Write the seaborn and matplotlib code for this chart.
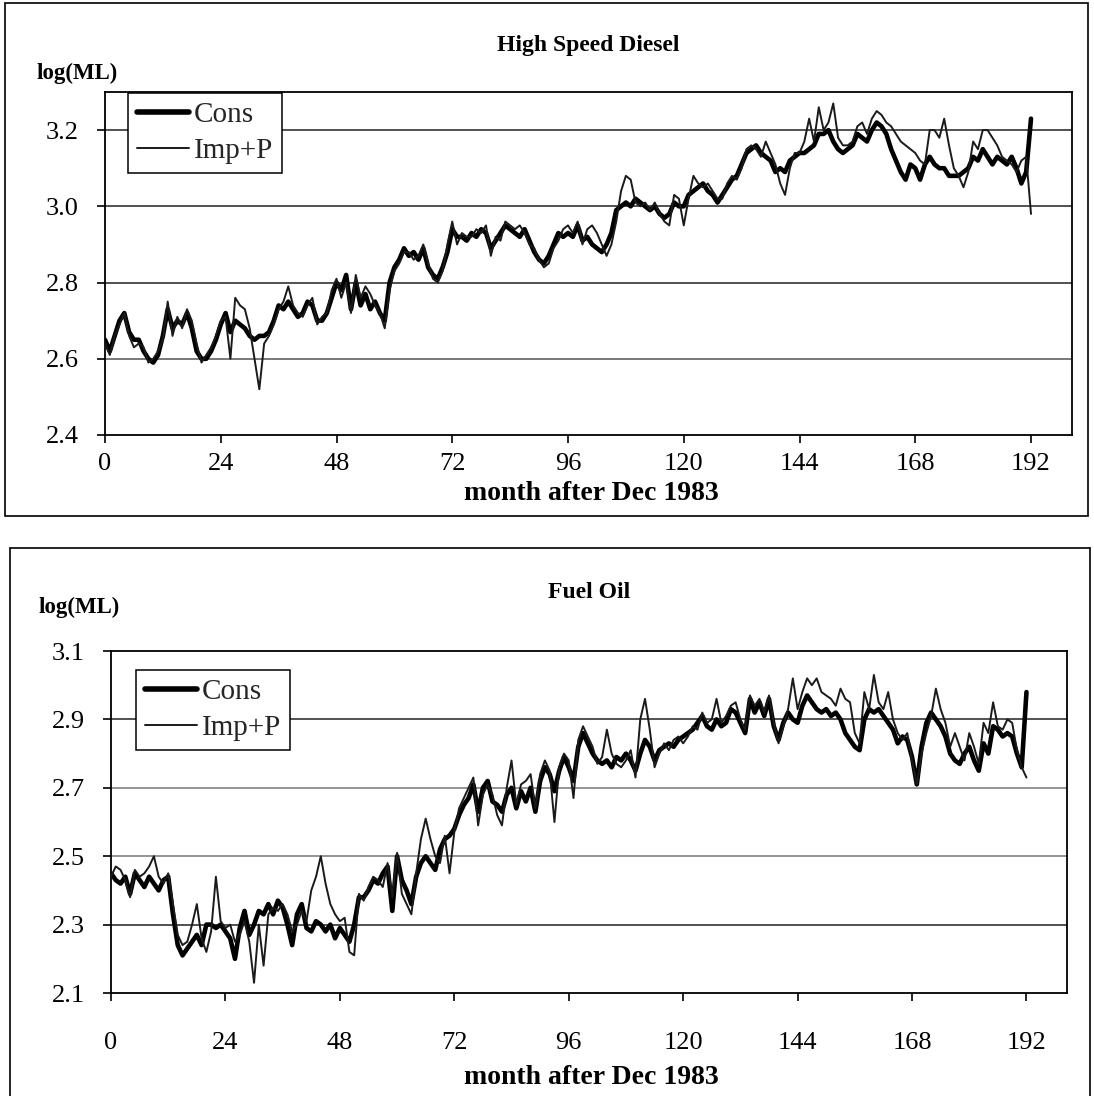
import numpy as np
import pandas as pd
import matplotlib
matplotlib.use("Agg")
import matplotlib.pyplot as plt
from matplotlib.patches import Rectangle
from matplotlib.lines import Line2D
import seaborn as sns

# ---------------- data ----------------
months = list(range(0, 193))

hsd_cons = [
    2.65, 2.62, 2.66, 2.70, 2.72, 2.67, 2.65, 2.65, 2.62, 2.60,
    2.59, 2.61, 2.66, 2.73, 2.68, 2.70, 2.69, 2.72, 2.68, 2.62,
    2.60, 2.60, 2.62, 2.65, 2.69, 2.72, 2.67, 2.70, 2.69, 2.68,
    2.66, 2.65, 2.66, 2.66, 2.67, 2.70, 2.74, 2.73, 2.75, 2.73,
    2.71, 2.72, 2.75, 2.74, 2.70, 2.70, 2.72, 2.76, 2.80, 2.78,
    2.82, 2.73, 2.80, 2.74, 2.77, 2.73, 2.75, 2.72, 2.70, 2.80,
    2.84, 2.86, 2.89, 2.87, 2.88, 2.86, 2.89, 2.84, 2.82, 2.81,
    2.84, 2.88, 2.94, 2.92, 2.92, 2.91, 2.93, 2.92, 2.94, 2.93,
    2.89, 2.91, 2.93, 2.95, 2.94, 2.93, 2.92, 2.94, 2.91, 2.88,
    2.86, 2.85, 2.87, 2.90, 2.93, 2.92, 2.93, 2.92, 2.95, 2.91,
    2.92, 2.90, 2.89, 2.88, 2.90, 2.93, 2.99, 3.00, 3.01, 3.00,
    3.02, 3.01, 3.00, 2.99, 3.00, 2.98, 2.97, 2.98, 3.01, 3.00,
    3.00, 3.03, 3.04, 3.05, 3.06, 3.04, 3.03, 3.01, 3.03, 3.05,
    3.07, 3.08, 3.11, 3.14, 3.15, 3.16, 3.14, 3.13, 3.12, 3.09,
    3.10, 3.09, 3.12, 3.13, 3.14, 3.14, 3.15, 3.16, 3.19, 3.19,
    3.20, 3.17, 3.15, 3.14, 3.15, 3.16, 3.19, 3.18, 3.17, 3.20,
    3.22, 3.21, 3.19, 3.15, 3.12, 3.09, 3.07, 3.11, 3.10, 3.07,
    3.11, 3.13, 3.11, 3.10, 3.10, 3.08, 3.08, 3.08, 3.09, 3.10,
    3.13, 3.12, 3.15, 3.13, 3.11, 3.13, 3.12, 3.11, 3.13, 3.10,
    3.06, 3.09, 3.23,
]

hsd_imp = [
    2.64, 2.61, 2.66, 2.69, 2.72, 2.66, 2.63, 2.64, 2.63, 2.59,
    2.60, 2.62, 2.65, 2.75, 2.66, 2.71, 2.68, 2.73, 2.70, 2.64,
    2.59, 2.61, 2.63, 2.66, 2.70, 2.71, 2.60, 2.76, 2.74, 2.73,
    2.68, 2.60, 2.52, 2.64, 2.66, 2.69, 2.73, 2.75, 2.79, 2.74,
    2.72, 2.71, 2.74, 2.76, 2.69, 2.71, 2.72, 2.78, 2.81, 2.76,
    2.80, 2.72, 2.82, 2.76, 2.79, 2.77, 2.74, 2.72, 2.68, 2.78,
    2.83, 2.85, 2.88, 2.88, 2.86, 2.87, 2.90, 2.85, 2.81, 2.80,
    2.83, 2.90, 2.96, 2.90, 2.93, 2.92, 2.92, 2.94, 2.93, 2.95,
    2.87, 2.92, 2.91, 2.96, 2.95, 2.94, 2.95, 2.93, 2.90, 2.89,
    2.86, 2.84, 2.85, 2.89, 2.91, 2.94, 2.95, 2.93, 2.96, 2.90,
    2.94, 2.95, 2.93, 2.90, 2.87, 2.90, 2.96, 3.04, 3.08, 3.07,
    3.01, 3.00, 3.01, 2.99, 3.01, 2.98, 2.96, 2.95, 3.03, 3.02,
    2.95, 3.02, 3.08, 3.06, 3.05, 3.06, 3.04, 3.02, 3.02, 3.06,
    3.08, 3.07, 3.10, 3.15, 3.16, 3.15, 3.13, 3.17, 3.14, 3.11,
    3.06, 3.03, 3.10, 3.14, 3.14, 3.17, 3.23, 3.17, 3.26, 3.20,
    3.22, 3.27, 3.18, 3.16, 3.16, 3.17, 3.21, 3.22, 3.19, 3.23,
    3.25, 3.24, 3.22, 3.21, 3.19, 3.17, 3.16, 3.15, 3.14, 3.12,
    3.11, 3.20, 3.20, 3.18, 3.23, 3.16, 3.10, 3.08, 3.05, 3.09,
    3.17, 3.15, 3.20, 3.20, 3.18, 3.16, 3.13, 3.12, 3.11, 3.09,
    3.12, 3.13, 2.98,
]

fo_cons = [
    2.45, 2.43, 2.42, 2.44, 2.39, 2.45, 2.43, 2.41, 2.44, 2.42,
    2.40, 2.43, 2.44, 2.33, 2.24, 2.21, 2.23, 2.25, 2.27, 2.24,
    2.30, 2.30, 2.29, 2.30, 2.28, 2.26, 2.20, 2.29, 2.34, 2.27,
    2.30, 2.34, 2.33, 2.36, 2.33, 2.37, 2.35, 2.30, 2.24, 2.33,
    2.36, 2.29, 2.28, 2.31, 2.30, 2.28, 2.30, 2.26, 2.29, 2.27,
    2.25, 2.30, 2.38, 2.38, 2.40, 2.43, 2.42, 2.45, 2.47, 2.34,
    2.50, 2.43, 2.40, 2.36, 2.44, 2.48, 2.50, 2.48, 2.46, 2.52,
    2.55, 2.56, 2.58, 2.62, 2.65, 2.67, 2.71, 2.63, 2.70, 2.72,
    2.66, 2.65, 2.63, 2.68, 2.70, 2.64, 2.69, 2.66, 2.70, 2.63,
    2.72, 2.76, 2.74, 2.69, 2.75, 2.79, 2.76, 2.72, 2.82, 2.86,
    2.83, 2.80, 2.78, 2.77, 2.78, 2.76, 2.79, 2.78, 2.80, 2.78,
    2.75, 2.80, 2.84, 2.82, 2.78, 2.81, 2.82, 2.83, 2.82, 2.84,
    2.85, 2.86, 2.87, 2.89, 2.91, 2.88, 2.87, 2.90, 2.88, 2.89,
    2.93, 2.92, 2.89, 2.86, 2.96, 2.92, 2.95, 2.91, 2.96, 2.88,
    2.84, 2.89, 2.92, 2.90, 2.89, 2.94, 2.97, 2.95, 2.93, 2.92,
    2.93, 2.91, 2.92, 2.90, 2.86, 2.84, 2.82, 2.81, 2.90, 2.93,
    2.92, 2.93, 2.91, 2.89, 2.87, 2.83, 2.85, 2.84, 2.79, 2.71,
    2.82, 2.89, 2.92, 2.90, 2.88, 2.85, 2.80, 2.78, 2.77, 2.80,
    2.82, 2.78, 2.75, 2.83, 2.80, 2.88, 2.87, 2.85, 2.86, 2.85,
    2.80, 2.76, 2.98,
]

fo_imp = [
    2.44, 2.47, 2.46, 2.43, 2.38, 2.46, 2.44, 2.45, 2.47, 2.50,
    2.44, 2.42, 2.45, 2.36, 2.27, 2.24, 2.25, 2.30, 2.36, 2.26,
    2.22, 2.28, 2.44, 2.31, 2.29, 2.30, 2.25, 2.27, 2.31, 2.25,
    2.13, 2.30, 2.18, 2.33, 2.35, 2.34, 2.36, 2.33, 2.28, 2.30,
    2.34, 2.31, 2.40, 2.44, 2.50, 2.42, 2.36, 2.33, 2.31, 2.32,
    2.22, 2.21, 2.39, 2.37, 2.41, 2.44, 2.43, 2.41, 2.48, 2.38,
    2.51, 2.39, 2.36, 2.33, 2.45, 2.55, 2.61, 2.55, 2.50, 2.48,
    2.56, 2.45, 2.57, 2.64, 2.67, 2.70, 2.73, 2.59, 2.68, 2.71,
    2.68, 2.62, 2.59, 2.70, 2.78, 2.65, 2.71, 2.72, 2.74, 2.64,
    2.74, 2.78, 2.75, 2.60, 2.76, 2.80, 2.78, 2.67, 2.84, 2.88,
    2.85, 2.82, 2.77, 2.79, 2.87, 2.80, 2.77, 2.76, 2.78, 2.81,
    2.73, 2.90, 2.96, 2.87, 2.76, 2.80, 2.83, 2.81, 2.84, 2.85,
    2.83, 2.85, 2.88, 2.87, 2.92, 2.89, 2.90, 2.96, 2.89, 2.91,
    2.94, 2.95, 2.90, 2.87, 2.97, 2.94, 2.96, 2.92, 2.97, 2.89,
    2.83, 2.88, 2.93, 3.02, 2.93, 2.98, 3.02, 3.00, 3.02, 2.98,
    2.97, 2.96, 2.94, 2.99, 2.96, 2.95, 2.86, 2.83, 2.98, 2.93,
    3.03, 2.95, 2.93, 2.98, 2.90, 2.86, 2.84, 2.86, 2.78, 2.71,
    2.80, 2.86, 2.91, 2.99, 2.93, 2.89, 2.82, 2.86, 2.82, 2.78,
    2.86, 2.82, 2.77, 2.89, 2.86, 2.95, 2.88, 2.87, 2.90, 2.89,
    2.81, 2.76, 2.73,
]

series_names = ["Cons", "Imp+P"]
x_ticks = list(range(0, 193, 24))
hsd_yticks = [2.4, 2.6, 2.8, 3.0, 3.2]
fo_yticks = [2.1, 2.3, 2.5, 2.7, 2.9, 3.1]

# ---------------- style ----------------
sns.set_theme(style="white")
plt.rcParams["font.family"] = ["Liberation Serif", "DejaVu Serif"]
plt.rcParams["axes.linewidth"] = 1.2

W, H = 1094, 1096
fig = plt.figure(figsize=(W / 100, H / 100), dpi=100)
fig.patch.set_facecolor("white")

CONS_LW = 3.3
IMP_LW = 1.4


def fx(px):
    return px / W


def fy(py):
    return 1 - py / H


def panel(rect_px, cons, imp, ylim, yticks, grid_colors, xpad, legend_px):
    l, t, r, b = rect_px
    ax = fig.add_axes([fx(l), fy(b), fx(r) - fx(l), fy(t) - fy(b)])
    df = pd.DataFrame({
        "month": months * 2,
        "value": list(cons) + list(imp),
        "series": ["Cons"] * len(months) + ["Imp+P"] * len(months),
    })
    # horizontal gridlines
    for yv in yticks:
        if ylim[0] < yv < ylim[1]:
            ax.axhline(yv, color=grid_colors.get(yv, "#222222"), lw=1.1, zorder=0)
    sns.lineplot(data=df[df.series == "Cons"], x="month", y="value",
                 color="black", lw=CONS_LW, ax=ax, legend=False, zorder=3)
    sns.lineplot(data=df[df.series == "Imp+P"], x="month", y="value",
                 color="#1a1a1a", lw=IMP_LW, ax=ax, legend=False, zorder=4)
    ax.set_xlim(0, 200.5)
    ax.set_ylim(*ylim)
    ax.set_xticks(x_ticks)
    ax.set_yticks(yticks)
    ax.set_yticklabels([f"{v:.1f}" for v in yticks])
    ax.set_xlabel("")
    ax.set_ylabel("")
    for s in ax.spines.values():
        s.set_visible(True)
        s.set_color("black")
        s.set_linewidth(1.3)
    ax.tick_params(axis="both", direction="out", length=6, width=1.2,
                   color="black", labelsize=19, labelcolor="black")
    ax.tick_params(axis="x", pad=xpad, bottom=True)
    ax.tick_params(axis="y", pad=13, left=True)
    ax.grid(False)
    handles = [Line2D([], [], color="black", lw=CONS_LW + 0.7),
               Line2D([], [], color="#1a1a1a", lw=IMP_LW)]
    lx, ly = legend_px
    leg = ax.legend(handles, series_names, loc="upper left",
                    bbox_to_anchor=((lx - l) / (r - l), 1 - (ly - t) / (b - t)),
                    borderaxespad=0, frameon=True, fancybox=False,
                    edgecolor="black", fontsize=21, handlelength=1.8,
                    handletextpad=0.15, labelspacing=0.32, borderpad=0.3,
                    framealpha=1)
    leg.get_frame().set_linewidth(1.1)
    return ax


ax1 = panel((105, 92, 1072, 435), hsd_cons, hsd_imp, (2.4, 3.3),
            hsd_yticks, {2.6: "#555555"}, 7, (128, 93))
ax2 = panel((111, 651, 1067, 993), fo_cons, fo_imp, (2.1, 3.1),
            fo_yticks, {2.7: "#777777", 2.5: "#777777"}, 22, (136, 670))

bold = dict(fontweight="bold", ha="center", va="center", color="black")
fig.text(fx(588), fy(45), "High Speed Diesel", fontsize=17, **bold)
fig.text(fx(77), fy(73), "log(ML)", fontsize=16.5, **bold)
fig.text(fx(591), fy(493), "month after Dec 1983", fontsize=20, **bold)
fig.text(fx(589), fy(593), "Fuel Oil", fontsize=17, **bold)
fig.text(fx(79), fy(607), "log(ML)", fontsize=16.5, **bold)
fig.text(fx(591), fy(1077), "month after Dec 1983", fontsize=20, **bold)

# panel frames
fig.add_artist(Rectangle((fx(5), fy(516)), fx(1088) - fx(5), fy(3) - fy(516),
                         transform=fig.transFigure, fill=False,
                         edgecolor="black", lw=1.2))
fig.add_artist(Line2D([fx(10), fx(10)], [fy(548), 0], transform=fig.transFigure,
                      color="black", lw=1.2))
fig.add_artist(Line2D([fx(10), fx(1090)], [fy(548), fy(548)],
                      transform=fig.transFigure, color="black", lw=1.2))
fig.add_artist(Line2D([fx(1090), fx(1090)], [fy(548), 0],
                      transform=fig.transFigure, color="black", lw=1.2))

fig.savefig("out.png", dpi=100, facecolor="white")
